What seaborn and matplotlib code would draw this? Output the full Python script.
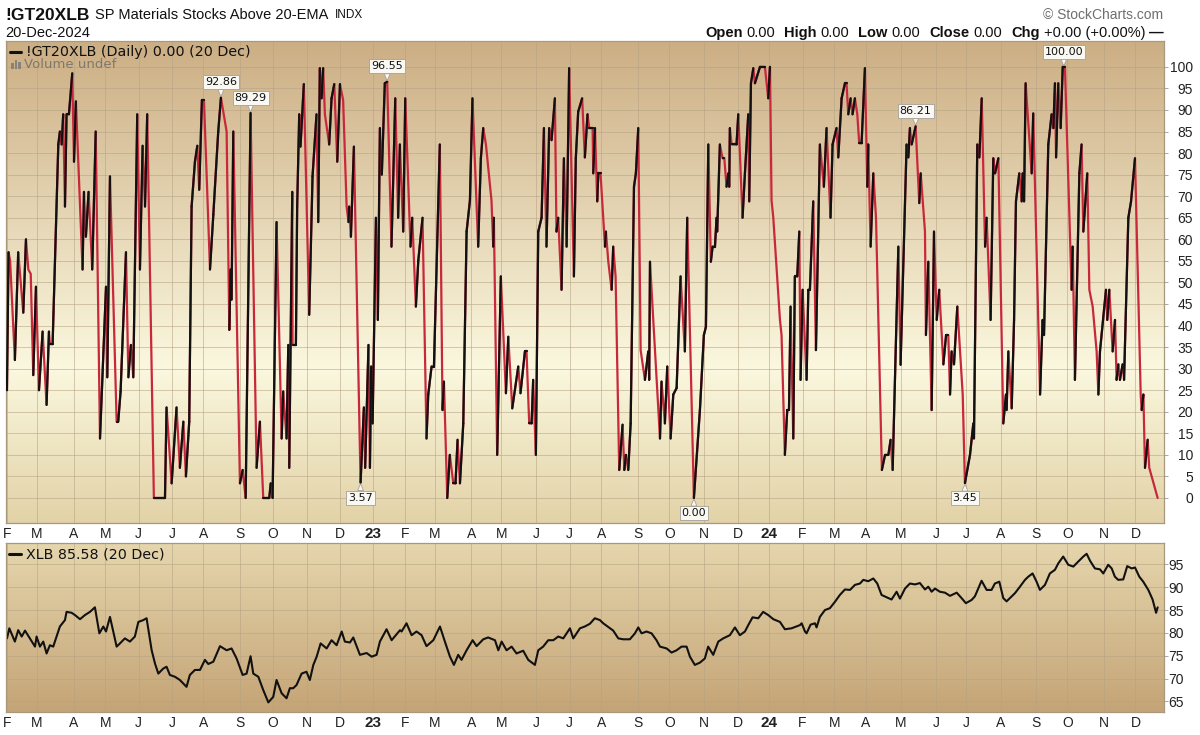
import numpy as np
import pandas as pd
import matplotlib
matplotlib.use("Agg")
import matplotlib.pyplot as plt
import seaborn as sns
from matplotlib.collections import LineCollection
from matplotlib.colors import LinearSegmentedColormap
from matplotlib.lines import Line2D
from matplotlib.patches import Rectangle
from pandas.tseries.holiday import (AbstractHolidayCalendar, Holiday, nearest_workday,
                                    USMartinLutherKingJr, USPresidentsDay, GoodFriday,
                                    USMemorialDay, USLaborDay, USThanksgivingDay)

# ---------------- data (trading-day index 0 = 1 Feb 2022) ----------------
gt_day = [0, 1, 2, 5, 7.1, 10.3, 12, 13.5, 15, 16.6,
          18.3, 20.2, 22.5, 25, 26.5, 27.1, 28.8, 32.4, 33.4, 34.5,
          35.5, 36.6, 37.6, 39.1, 41.2, 42.3, 43.5, 47.7, 48.6, 49.8,
          51.5, 53.8, 56, 58.7, 62.5, 63.3, 65, 69.2, 70.2, 71.7,
          75.1, 76.6, 78.2, 79.7, 82.2, 83.9, 85.6, 87.1, 88.5, 92.7,
          99.7, 100.7, 103.9, 107, 109.1, 111.3, 112.9, 115, 116.5, 118.6,
          120.1, 121.3, 123, 124.3, 128.1, 130.2, 133.3, 135, 138.6, 140.3,
          141.1, 141.7, 142.8, 147, 148.7, 150.6, 153.7, 157.5, 159.6, 161.7,
          165.5, 166.4, 167.6, 170.1, 173.3, 174.3, 176.4, 177.5, 178.1, 180,
          180.2, 182.3, 183.1, 184.4, 185.2, 187.3, 190.7, 192.8, 195.3, 196.4,
          197.4, 198.5, 199.5, 200.6, 203.3, 204.8, 206.5, 208.4, 210.1, 212.1,
          214.3, 215.5, 215.9, 217, 218.9, 223.1, 225.2, 226, 228.1, 229,
          229.8, 230.7, 232.8, 234, 235.3, 236.5, 238.4, 239.9, 242.6, 245,
          246.8, 247.9, 250, 251.3, 254.6, 255.7, 258, 259.5, 262.2, 264.7,
          265.8, 267.9, 269.4, 273.1, 274.8, 275.7, 277.8, 279.4, 281.6, 283,
          284.3, 285.8, 287.9, 290, 292.1, 293.7, 297.3, 299, 300.5, 302.2,
          305.7, 306.8, 307.2, 309.3, 311.6, 314.8, 316.3, 318.8, 322.6, 324,
          326.8, 327.8, 329.5, 331, 332, 333.7, 335.2, 337.3, 338.8, 340.4,
          342.1, 343.6, 345.7, 346.7, 347.8, 349.9, 351.4, 353.1, 354.7, 357.7,
          358.9, 360.4, 362.9, 364.6, 366.3,
          367.4, 369.5, 369.9, 371, 372.4, 373.1, 374.5, 377.3, 377.9, 379.4,
          381.5, 382.5, 384, 386.3, 388.4, 389.5, 390.5, 392, 393.5, 395.6,
          396.8, 398.3, 399.8, 402.5, 404.6, 405.2, 405.7, 412, 413, 415.1,
          416.6, 418.7, 420.4, 422.5, 425, 427.7, 429.2, 433.4, 437.2, 439.7,
          441, 442.5, 444.1, 445.2, 446.7, 447.7, 448.1, 449.8, 451.5, 452.6,
          454, 455.1, 455.7, 456.1, 457.2, 460.3, 461.4, 464.1, 465.6,
          467.7, 468.3, 469.4, 470.9, 471.9, 475.1, 478.2, 480.3, 481.4, 482.4,
          483.5, 487.7, 488.7, 490.8, 492.3, 493.4, 494.4, 496.1, 497.1, 498.6,
          499.9, 500.7, 502, 504.5, 505.6, 506.6, 508.7, 510.4, 512.9, 515.4,
          517.1, 519.6, 520.9, 523.4, 524.5, 526.6, 528.7, 529.7, 530.8, 532.3,
          533.5, 535, 536.5, 537.7, 539.2, 541.3, 542.8, 543.4, 544.9, 546.6,
          548.3,
          552, 554, 556.1, 557.5, 558.8, 562.4, 563.8, 567.6, 568.7, 569.7,
          570.8, 573.3, 575.6, 576.5, 579.2, 579.8, 581.3, 583.4, 584.9, 586.6,
          588.2, 590.8, 592.5, 593.9, 595, 596, 597.5, 599.6, 603, 604.4,
          607.6, 609.7, 610.1, 612.2, 613.5, 615, 617.1, 618.1, 620.6, 622.3,
          623.4, 625.5, 628.6, 630.3, 630.7, 631.8, 633.9, 635.4, 636.6, 638.7,
          640.2, 640.8, 641.7, 642.7, 646.5, 647.5, 651.8, 653.4, 654.3, 657,
          659.1, 660.2, 661.2, 661.9, 663.3, 664.8, 666.1, 667.5, 671.7, 672.4,
          673.8, 676.6, 678, 679.1, 681.6, 682.9, 685, 687.5, 688.6, 689.6,
          693.4, 694.2, 695.5, 697.6, 699.1, 700.1, 701.2, 702.2, 703.9, 704.8,
          707.5, 709.2, 711.7, 715.3, 715.9, 717, 718, 719.7, 720.7, 726]

gt_val = [25, 57, 55, 32, 57, 43, 60, 53, 52, 28.5,
          49, 25, 38.6, 21.6, 38.6, 35.7, 35.7, 82, 85, 82,
          89, 67.6, 89, 89, 98.5, 78, 92, 53, 71, 60.6,
          71, 53, 85, 13.8, 49, 28, 74.6, 17.7, 17.7, 24.7,
          57, 28, 35.5, 28, 89, 53, 81.7, 67.6, 89, 0,
          0, 21, 3.4, 21, 7, 17.7, 5, 17.7, 67.6, 78,
          81.7, 71.5, 92.3, 92.3, 53, 65.7, 85, 92.86, 85, 39,
          53, 46, 85, 3.4, 6.5, 0, 89.29, 7, 17.7, 0,
          0, 3.4, 0, 64, 13.8, 24.7, 13.8, 35.5, 7, 71,
          35.5, 35.5, 67.6, 89, 81.5, 96, 42.5, 74.6, 89, 64,
          99.7, 92.7, 99.7, 89, 82, 92.7, 96, 78, 96, 92.3,
          67.6, 64, 67.6, 60.6, 81.5, 3.57, 21, 7, 35.5, 7,
          30.5, 17.3, 65, 41.3, 85.8, 75, 96.2, 96.55, 58.3, 92.7,
          65, 82, 61.8, 92.7, 58.3, 65, 44.4, 55, 65, 13.8,
          24, 30.5, 30.5, 82, 20.4, 27, 0, 10, 3.4, 3.4,
          13.5, 3.4, 17.3, 61.8, 69, 92.7, 58.3, 78.8, 85.8, 82,
          69, 58.3, 65, 10, 51.4, 24.3, 37.4, 20.8, 30.5, 24.3,
          34, 34, 17.3, 17.3, 27.4, 10, 61.8, 65, 85.8, 58.3,
          85.8, 83, 92.7, 61.8, 65, 48.3, 78.8, 58.3, 99.7, 51.4,
          78.8, 89.6, 92.7, 79, 89,
          85.8, 85.8, 75.3, 85.8, 68.8, 75.3, 75.3, 58.3, 61.8, 54.8,
          48.3, 58.3, 51.4, 6.5, 17, 6.5, 10, 6.5, 17.3, 72.2,
          75.3, 85.8, 34.3, 27.4, 34, 27.4, 54.8, 13.8, 27, 17.3,
          30.5, 13.8, 24, 25.5, 51.4, 34, 65, 0, 20.4, 37.8,
          39.7, 82, 54.8, 58.3, 58.3, 65, 61.8, 82, 78.8, 78.8,
          72.2, 75.3, 72.2, 85.8, 82, 82, 89, 65, 75.3,
          89, 68.8, 96.2, 99.7, 96.2, 100, 100, 92.7, 100, 69,
          65, 41.3, 37.8, 10, 20.4, 20.4, 44.4, 13.8, 51.4, 51.4,
          61.8, 27.4, 48.3, 27.4, 48.3, 48.3, 68.8, 34.3, 82, 72.2,
          85.8, 65, 82, 85.8, 79, 92.7, 96.2, 96.2, 89, 92.7,
          89, 92.7, 89, 82.3, 82.3, 99.7, 72.2, 82, 58.3, 75.3,
          65,
          6.5, 10, 10, 13.5, 6.5, 58.3, 30.9, 82, 79, 85.8,
          82, 86.21, 68.4, 75.3, 61.8, 37.8, 54.8, 20.4, 61.8, 41.3,
          48.3, 31, 37.8, 37.8, 24, 34, 31, 44.4, 24, 3.45,
          10, 17.3, 13.8, 82, 79, 92.7, 58.3, 65, 41.3, 78.8,
          75.3, 78.8, 17.3, 24, 20.4, 34, 20.8, 41.3, 68.8, 75.3,
          68.8, 75.3, 68.8, 96.2, 75.3, 89.2, 24, 41.3, 37.8, 82,
          89, 85.8, 96.2, 79, 96.2, 85.8, 100, 100, 48.3, 58.3,
          27.4, 75.3, 82, 61.8, 75.3, 48.3, 44.4, 34, 24, 34,
          48.3, 41.3, 48.3, 34, 41.3, 27.4, 31, 27.4, 31, 27.4,
          65, 68.8, 78.8, 24, 20.4, 24, 7, 13.5, 7, 0]

xlb_day = [0, 1.5, 5, 7.1, 9.3, 11.4, 14.5, 17.7, 18.7, 20.8,
           22.9, 25, 27.1, 29.2, 33.4, 36.6, 37.6, 40.8, 42.9, 46.1,
           49.2, 52.4, 55.5, 58.3, 60.8, 62.5, 65, 69.2, 71.3, 74.4,
           77.6, 80.7, 82.9, 86, 88.1, 91.3, 93.4, 95.5, 98.6, 100.7,
           102.8, 106, 109.1, 113.3, 115.4, 118.6, 121.8, 124.9, 127, 130.2,
           134.4, 138.6, 141.7, 144.9, 148.7, 151.2, 153.7, 155.4, 158.6, 161.7,
           164.9, 168, 170.1, 173.3, 176.4, 178.5, 180.6, 182.7, 185.9, 189,
           191.1, 193.3, 195.4, 197.9, 201.7, 204.8, 208, 211.2, 213.2, 216.4,
           218.5, 222.7, 226.9, 230.1, 233.2, 235.3, 239.5, 242.7, 248,
           249, 252.1, 255.3, 258.4, 261.6, 264.7, 269, 273.2, 276.3, 279.5,
           282, 284.7, 286.8, 290, 293.8, 296.3, 300.5, 303.6, 307.9, 310,
           312.1, 315.2, 318.4, 321.5, 325.7, 328.9, 333.1, 335.2, 338.3, 341.5,
           344.7, 347.8, 351, 353.1, 355.2, 357.3, 361.5, 364.6, 367.8, 370.9,
           374.1, 376.2, 379.4, 382.5, 385.7, 388.8, 393, 396.2, 398.3, 400.4,
           403.5, 406.7, 409.8, 412, 416.2, 419.3, 422.5, 425.6, 428.8, 430.9,
           434, 437.2, 440.3, 442.4, 445.6, 448.8, 451.9, 456.1, 459.3, 462.4,
           465.6, 467.7, 470.4, 474, 477.1, 480.3, 483.5, 487.7, 490.8, 495,
           500.3,
           501.4, 503.5, 504.5, 507, 509.8, 510.8, 512.9, 516.1, 519.2, 522.4,
           525.5, 528.7, 531.9, 535, 538.2, 540.3, 543.4, 546.6, 549.1, 551.8,
           555, 558.1, 561.3, 563.4, 566.6, 569.7, 572.9, 576, 579.2, 581.3,
           583.4, 585.5, 588.6, 591.8, 595, 599.2, 602.3, 605, 608.6, 610.7,
           612.8, 614.9, 618.1, 621.2, 623.3, 626.1, 628.6, 630.7, 632.8, 636,
           639.1, 642.3, 644.4, 647.1, 649.6, 651.7, 654.9, 658, 661.2, 663.3,
           666.4, 669.6, 672.8, 675.9, 679.1, 681.2, 683.3, 686.4, 689.6, 691.7,
           694.8, 697, 699, 701.1, 704.3, 706.8, 709.6, 711.7, 714.4, 716.9,
           720.1, 722.8, 725, 726]

xlb_val = [78.8, 81.0, 78.1, 80.6, 79.2, 80.5, 78.8, 77.0, 79.2, 77.0,
           78.1, 75.5, 77.3, 77.0, 81.4, 82.8, 84.6, 84.4, 83.9, 83.0,
           83.9, 84.6, 85.6, 79.9, 81.4, 80.3, 83.5, 77.0, 77.7, 78.8,
           78.1, 79.2, 82.4, 82.8, 83.2, 76.2, 73.3, 71.1, 72.2, 72.6,
           70.8, 70.4, 69.7, 68.2, 70.8, 71.9, 71.9, 74.1, 73.2, 73.7,
           77.1, 76.2, 76.6, 74.4, 70.8, 71.1, 74.9, 71.1, 70.4, 67.5,
           64.8, 66.0, 69.7, 66.8, 65.7, 67.9, 67.9, 68.6, 71.1, 71.5,
           69.7, 73.0, 74.8, 77.7, 76.6, 78.4, 77.3, 80.3, 78.1, 77.9,
           79.0, 75.2, 75.6, 74.8, 75.2, 78.1, 80.8, 78.4, 80.6,
           80.3, 82.1, 79.5, 80.3, 79.5, 77.1, 78.4, 81.4, 78.1, 74.8,
           73.0, 75.2, 74.1, 76.2, 78.4, 77.1, 78.6, 79.0, 78.4, 76.2,
           78.1, 76.2, 77.0, 75.5, 76.1, 74.1, 73.0, 76.2, 77.0, 78.4,
           78.4, 79.2, 78.8, 79.9, 81.0, 78.8, 81.0, 81.4, 82.0, 83.2,
           82.8, 82.1, 81.3, 80.5, 78.8, 78.6, 78.6, 79.9, 81.2, 79.9,
           80.3, 79.9, 78.4, 77.0, 76.6, 75.7, 76.2, 77.0, 77.0, 74.8,
           73.0, 73.5, 74.4, 77.0, 75.2, 78.1, 78.8, 79.5, 81.2, 79.5,
           80.3, 81.7, 83.4, 83.2, 84.6, 83.9, 83.0, 82.4, 80.8, 81.0,
           81.7,
           82.1, 80.3, 79.9, 81.8, 82.1, 81.2, 83.5, 85.0, 85.4, 86.8,
           88.3, 89.5, 89.4, 90.5, 90.8, 91.6, 91.3, 91.9, 90.8, 88.3,
           87.8, 87.3, 89.0, 87.5, 89.7, 90.8, 90.6, 90.9, 89.5, 90.1,
           89.0, 89.7, 89.0, 88.8, 88.1, 88.8, 87.6, 86.5, 87.2, 88.0,
           89.7, 91.4, 89.4, 89.4, 90.8, 91.2, 87.6, 86.9, 87.6, 88.7,
           90.1, 91.6, 92.3, 93.0, 91.2, 89.4, 90.5, 93.0, 93.8, 95.2,
           96.7, 94.9, 94.5, 95.6, 96.7, 97.3, 95.8, 94.1, 93.9, 93.0,
           94.9, 94.1, 92.3, 91.6, 91.7, 94.6, 94.1, 94.3, 92.3, 91.2,
           89.4, 87.3, 84.4, 85.58]

ann_day = [135.0, 153.7, 239.9, 223.1, 433.4, 573.3, 604.4, 666.8]
ann_val = [92.86, 89.29, 96.55, 3.57, 0.00, 86.21, 3.45, 100.00]
ann_above = [True, True, True, False, False, True, False, True]

upper_ticks = list(range(0, 101, 5))
lower_ticks = list(range(65, 96, 5))

# ---------------- trading calendar for month ticks ----------------
class NYSECalendar(AbstractHolidayCalendar):
    rules = [
        Holiday("NewYear", month=1, day=1, observance=nearest_workday),
        USMartinLutherKingJr, USPresidentsDay, GoodFriday, USMemorialDay,
        Holiday("Juneteenth", month=6, day=19, start_date="2022-01-01",
                observance=nearest_workday),
        Holiday("Independence", month=7, day=4, observance=nearest_workday),
        USLaborDay, USThanksgivingDay,
        Holiday("Christmas", month=12, day=25, observance=nearest_workday),
    ]

hol = NYSECalendar().holidays("2021-12-01", "2025-01-31")
days = pd.bdate_range("2022-02-01", "2024-12-20", freq="C", holidays=hol)
mkey = days.to_period("M")
first = np.r_[True, np.asarray(mkey[1:] != mkey[:-1])]
tick_idx = np.flatnonzero(first)
tick_lab = [str(d.year)[2:] if d.month == 1 else d.strftime("%b")[0]
            for d in days[tick_idx]]

# ---------------- figure ----------------
sns.set_style("white")
plt.rcParams["font.family"] = ["Liberation Sans", "DejaVu Sans"]

W, H = 1200, 735
fig = plt.figure(figsize=(12, 7.35), dpi=100)
fig.patch.set_facecolor("white")


def fy(py):
    return 1 - py / H


ax1 = fig.add_axes([6 / W, 1 - 523 / H, 1158 / W, 482 / H])
ax2 = fig.add_axes([6 / W, 1 - 712 / H, 1158 / W, 169 / H])

RED = "#C8283C"
BLACK = "#111111"
GRID = "#B5A283"
SPINE = "#A8987C"
XLIM = (-0.6, 730)


def gradient(ax, stops):
    cmap = LinearSegmentedColormap.from_list("g", stops)
    grad = np.linspace(0, 1, 256).reshape(-1, 1)
    ax.imshow(grad, cmap=cmap, aspect="auto", extent=(0, 1, 0, 1), origin="upper",
              transform=ax.transAxes, zorder=0, interpolation="bilinear")


gradient(ax1, [(0, "#CCAE84"), (0.68, "#FBF8DF"), (1, "#E2D2A7")])
gradient(ax2, [(0, "#E6D6AD"), (1, "#C4A476")])

# upper panel line: red base, black rising segments
sns.lineplot(x=gt_day, y=gt_val, ax=ax1, color=RED, lw=1.6, estimator=None, zorder=2)
pts = np.column_stack([gt_day, gt_val])
segs = np.stack([pts[:-1], pts[1:]], axis=1)
up = np.diff(gt_val) >= 0
ax1.add_collection(LineCollection(segs[up], colors=BLACK, linewidths=1.6,
                                  capstyle="round", zorder=3))

sns.lineplot(x=xlb_day, y=xlb_val, ax=ax2, color=BLACK, lw=1.5, estimator=None, zorder=2)

for ax in (ax1, ax2):
    ax.set_xlim(*XLIM)
    ax.set_xlabel("")
    ax.set_ylabel("")
    ax.set_axisbelow(True)
    ax.grid(True, color=GRID, alpha=0.55, lw=0.7)
    for s in ax.spines.values():
        s.set_color(SPINE)
        s.set_linewidth(0.9)
    ax.set_xticks(tick_idx)
    ax.set_xticklabels(tick_lab)
    ax.tick_params(axis="x", length=0, pad=3, labelsize=10, labelcolor="#222222")
    for t, lab in zip(ax.get_xticklabels(), tick_lab):
        if lab.isdigit():
            t.set_fontweight("bold")
            t.set_fontsize(11)
    ax.yaxis.tick_right()

ax1.set_ylim(-5.8, 106)
ax1.set_yticks(upper_ticks)
ax1.tick_params(axis="y", length=3, width=0.6, color="#999999", labelsize=10,
                pad=18, labelcolor="#222222")
for t in ax1.get_yticklabels():
    t.set_horizontalalignment("right")

ax2.set_ylim(62.7, 99.66)
ax2.set_yticks(lower_ticks)
ax2.tick_params(axis="y", length=3, width=0.6, color="#999999", labelsize=10,
                pad=11, labelcolor="#222222")
for t in ax2.get_yticklabels():
    t.set_horizontalalignment("right")

# annotations
for d, v, a in zip(ann_day, ann_val, ann_above):
    off = 11 if a else -11
    ax1.annotate(f"{v:.2f}", xy=(d, v), xytext=(0, off), textcoords="offset points",
                 ha="center", va="center", fontsize=8, family="DejaVu Sans", color="#111111",
                 bbox=dict(boxstyle="square,pad=0.18", fc="#FAF8F2", ec="#A5A098", lw=0.6),
                 arrowprops=dict(arrowstyle="wedge,tail_width=0.5,shrink_factor=0.6",
                                 fc="#FAF8F2", ec="#A5A098", lw=0.6, shrinkA=0, shrinkB=1),
                 zorder=5)

# ---------------- header texts ----------------
fig.canvas.draw()
r = fig.canvas.get_renderer()


def put_seq(x0, y, pieces, **kw):
    x = x0
    for txt, size, weight, color, gap in pieces:
        t = fig.text(x / W, fy(y), txt, fontsize=size, fontweight=weight, color=color,
                     ha="left", va="center", **kw)
        x += t.get_window_extent(r).width + gap
    return x


put_seq(5, 15, [("!GT20XLB", 12.5, "bold", "#111111", 6),
                ("SP Materials Stocks Above 20-EMA", 10.5, "normal", "#111111", 6),
                ("INDX", 8.5, "normal", "#111111", 0)])
fig.text(5 / W, fy(33), "20-Dec-2024", fontsize=10.5, color="#111111", va="center")

fig.text(1163 / W, fy(15), "© StockCharts.com", fontsize=10, color="#6E6E6E",
         ha="right", va="center")

right_pieces = [("Open", "bold", 4), ("0.00", "normal", 9), ("High", "bold", 4),
                ("0.00", "normal", 9), ("Low", "bold", 4), ("0.00", "normal", 9),
                ("Close", "bold", 4), ("0.00", "normal", 9), ("Chg", "bold", 4),
                ("+0.00 (+0.00%)", "normal", 4), ("—", "bold", 0)]
x = 1164
for txt, wgt, gap in reversed(right_pieces):
    x -= gap
    t = fig.text(x / W, fy(33), txt, fontsize=10.5, fontweight=wgt, color="#111111",
                 ha="right", va="center")
    x -= t.get_window_extent(r).width

# ---------------- in-panel legends ----------------
fig.add_artist(Line2D([10 / W, 21 / W], [fy(52), fy(52)], lw=2.2, color="#111111",
                      transform=fig.transFigure))
fig.text(26 / W, fy(52), "!GT20XLB (Daily) 0.00 (20 Dec)", fontsize=10.3,
         family="DejaVu Sans", color="#111111", va="center")
for i, hgt in enumerate([6, 9, 7]):
    fig.add_artist(Rectangle(((11 + i * 3.5) / W, fy(69)), 2.6 / W, hgt / H,
                             transform=fig.transFigure, color="#8A8276", lw=0))
fig.text(24 / W, fy(65), "Volume undef", fontsize=9.5, family="DejaVu Sans",
         color="#7F786C", va="center")

fig.add_artist(Line2D([9 / W, 21 / W], [fy(554), fy(554)], lw=2.2, color="#111111",
                      transform=fig.transFigure))
fig.text(26 / W, fy(554), "XLB 85.58 (20 Dec)", fontsize=10.3, family="DejaVu Sans",
         color="#111111", va="center")

fig.savefig("out.png", dpi=100)
